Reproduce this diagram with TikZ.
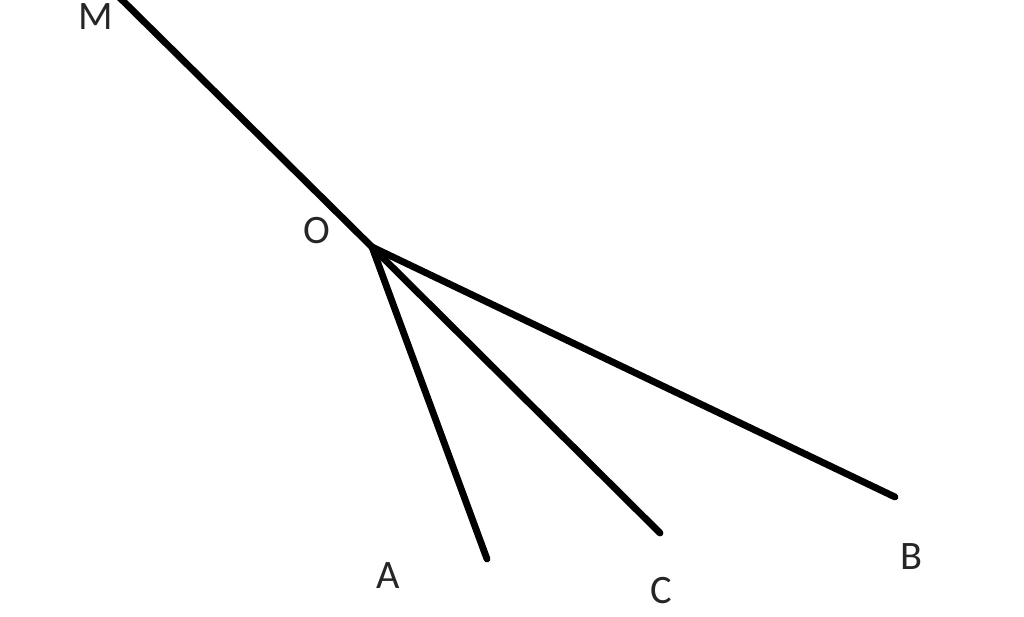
\documentclass[tikz,border=0pt]{standalone}
\usepackage{fontspec}
\setmainfont{Carlito}
\usepackage{tikz}
\colorlet{rayColor}{black}
\colorlet{labelColor}{black!85}
\tikzset{
	ray/.style={draw=rayColor, line width=3.9pt, line cap=round},
	pointLabel/.style={text=labelColor, inner sep=0pt, font=\fontsize{23}{27}\selectfont}
}

\begin{document}
\begin{tikzpicture}[x=0.02cm, y=-0.02cm]
	\useasboundingbox (0, 0) rectangle (1024, 617);
	\clip (0, 0) rectangle (1024, 617);

	% --- Punkte ---
	\coordinate (O) at (372, 247);
	\coordinate (M) at (116, -6);
	\coordinate (A) at (487, 559);
	\coordinate (C) at (660, 533);
	\coordinate (B) at (895, 497);

	% --- Strahlen ---
	\draw[ray] (O) -- (M);
	\draw[ray] (O) -- (A);
	\draw[ray] (O) -- (C);
	\draw[ray] (O) -- (B);

	% --- Beschriftungen ---
	\node[pointLabel] (labelM) at (96, 17) {M};
	\node[pointLabel] (labelO) at (317, 231) {O};
	\node[pointLabel] (labelA) at (388, 576) {A};
	\node[pointLabel] (labelC) at (661, 591) {C};
	\node[pointLabel] (labelB) at (911, 557) {B};

\end{tikzpicture}
\end{document}
